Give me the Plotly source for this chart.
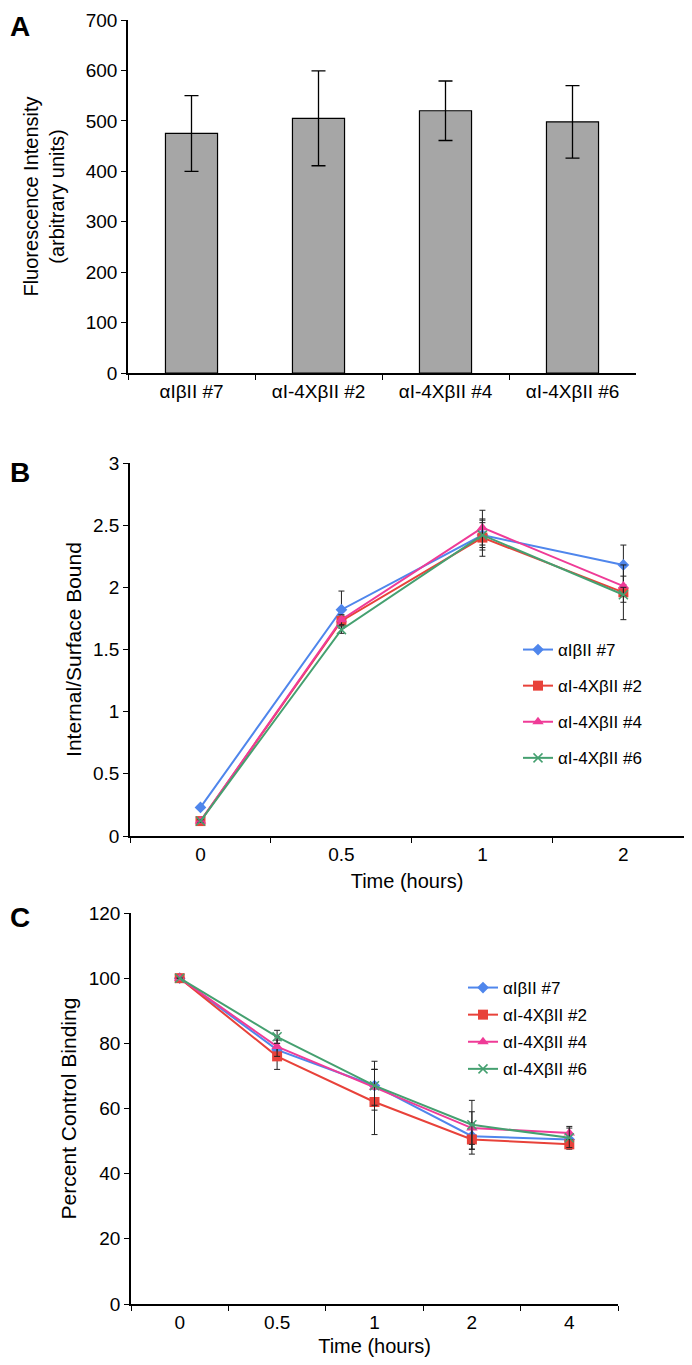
import plotly.graph_objects as go

# ---- data ----
strains = ["αIβII #7", "αI-4XβII #2", "αI-4XβII #4", "αI-4XβII #6"]
intensity = [475, 505, 520, 498]
intensity_err = [75, 94, 59, 72]

times_b = ["0", "0.5", "1", "2"]
ratio_7 = [0.23, 1.82, 2.42, 2.18]
ratio_2 = [0.12, 1.73, 2.40, 1.96]
ratio_4 = [0.12, 1.74, 2.48, 2.01]
ratio_6 = [0.12, 1.66, 2.42, 1.94]
ratio_err_7 = [0.01, 0.15, 0.10, 0.16]
ratio_err_2 = [0.01, 0.04, 0.15, 0.22]
ratio_err_4 = [0.01, 0.04, 0.14, 0.08]
ratio_err_6 = [0.01, 0.03, 0.12, 0.06]

times_c = ["0", "0.5", "1", "2", "4"]
bind_7 = [100, 78, 67, 51.5, 50.5]
bind_2 = [100, 76, 62, 50.5, 49]
bind_4 = [100, 79, 66.5, 54, 52.5]
bind_6 = [100, 82, 67, 55, 51]
bind_err_7 = [0, 3, 5, 4, 2]
bind_err_2 = [0, 4, 10, 4.5, 1.5]
bind_err_4 = [0, 3, 5.5, 5, 2]
bind_err_6 = [0, 2, 7.5, 7.5, 3]

names = ["αIβII #7", "αI-4XβII #2", "αI-4XβII #4", "αI-4XβII #6"]
colors = ["#4f86ec", "#e8423a", "#ef3b97", "#45a070"]
symbols = ["diamond", "square", "triangle-up", "x-thin"]
sizes = [9, 10, 10, 9]

# page body has an 8px margin, so the figure is 16px smaller than the window
OFF = 8
W, H = 692 - 2 * OFF, 1365 - 2 * OFF
FONT = "Arial, Liberation Sans, sans-serif"


def px_x(a, b):
    return [max(0, (a - OFF) / W), min(1, (b - OFF) / W)]


def px_y(top, bottom):
    return [max(0, 1 - (bottom - OFF) / H), min(1, 1 - (top - OFF) / H)]


def py(v):
    return 1 - (v - OFF) / H


def pxx(v):
    return (v - OFF) / W


fig = go.Figure()

# panel A
fig.add_trace(go.Bar(
    x=strains, y=intensity, width=0.41,
    marker=dict(color="#a6a6a6", line=dict(color="black", width=1.2)),
    error_y=dict(type="data", array=intensity_err, color="black", thickness=1.3, width=7),
    showlegend=False, xaxis="x", yaxis="y",
))

# panels B and C
series_b = [(ratio_7, ratio_err_7), (ratio_2, ratio_err_2), (ratio_4, ratio_err_4), (ratio_6, ratio_err_6)]
series_c = [(bind_7, bind_err_7), (bind_2, bind_err_2), (bind_4, bind_err_4), (bind_6, bind_err_6)]

for i, (vals, errs) in enumerate(series_b):
    fig.add_trace(go.Scatter(
        x=times_b, y=vals, name=names[i], mode="lines+markers",
        line=dict(color=colors[i], width=2),
        marker=dict(symbol=symbols[i], size=sizes[i], color=colors[i],
                    line=dict(color=colors[i], width=1.5 if symbols[i] == "x-thin" else 0)),
        error_y=dict(type="data", array=errs, color="#222222", thickness=1, width=3),
        xaxis="x2", yaxis="y2", legend="legend", legendgroup=f"b{i}",
    ))

for i, (vals, errs) in enumerate(series_c):
    fig.add_trace(go.Scatter(
        x=times_c, y=vals, name=names[i], mode="lines+markers",
        line=dict(color=colors[i], width=2),
        marker=dict(symbol=symbols[i], size=sizes[i], color=colors[i],
                    line=dict(color=colors[i], width=1.5 if symbols[i] == "x-thin" else 0)),
        error_y=dict(type="data", array=errs, color="#222222", thickness=1, width=3),
        xaxis="x3", yaxis="y3", legend="legend2", legendgroup=f"c{i}",
    ))

axis_common = dict(showline=True, linecolor="black", linewidth=1.5, ticks="outside",
                   ticklen=5, tickcolor="black", showgrid=False, zeroline=False,
                   automargin=False, tickfont=dict(size=19, color="black"))

fig.update_layout(
    width=W, height=H,
    margin=dict(l=0, r=0, t=0, b=0),
    paper_bgcolor="white", plot_bgcolor="white",
    font=dict(family=FONT, color="black"),
    xaxis=dict(domain=px_x(128, 636), anchor="y", type="category", range=[-0.5, 3.5],
               tickson="boundaries", **axis_common),
    yaxis=dict(domain=px_y(20, 373), anchor="x", range=[0, 700], dtick=100,
               title=dict(text="Fluorescence Intensity<br>(arbitrary units)", font=dict(size=20), standoff=16),
               **axis_common),
    xaxis2=dict(domain=px_x(130, 692), anchor="y2", type="category", range=[-0.5, 3.43],
                tickson="boundaries",
                title=dict(text="Time (hours)", font=dict(size=20), standoff=10), **axis_common),
    yaxis2=dict(domain=px_y(463, 836), anchor="x2", range=[0, 3], dtick=0.5,
                title=dict(text="Internal/Surface Bound", font=dict(size=21), standoff=6),
                **axis_common),
    xaxis3=dict(domain=px_x(131, 618), anchor="y3", type="category", range=[-0.5, 4.5],
                tickson="boundaries",
                title=dict(text="Time (hours)", font=dict(size=20), standoff=8), **axis_common),
    yaxis3=dict(domain=px_y(913, 1304), anchor="x3", range=[0, 120], dtick=20,
                title=dict(text="Percent Control Binding", font=dict(size=21), standoff=6),
                **axis_common),
    legend=dict(x=pxx(518), y=py(632), xanchor="left", yanchor="top",
                bgcolor="rgba(0,0,0,0)", font=dict(size=17), tracegroupgap=11,
                itemwidth=30),
    legend2=dict(x=pxx(463), y=py(970), xanchor="left", yanchor="top",
                 bgcolor="rgba(0,0,0,0)", font=dict(size=17), tracegroupgap=2,
                 itemwidth=30),
    annotations=[
        dict(text="<b>A</b>", x=0, y=py(9), xref="paper", yref="paper", xanchor="left",
             yanchor="top", showarrow=False, font=dict(size=28)),
        dict(text="<b>B</b>", x=0, y=py(455), xref="paper", yref="paper", xanchor="left",
             yanchor="top", showarrow=False, font=dict(size=28)),
        dict(text="<b>C</b>", x=0, y=py(900), xref="paper", yref="paper", xanchor="left",
             yanchor="top", showarrow=False, font=dict(size=28)),
    ],
)

fig.write_html("out.html")
